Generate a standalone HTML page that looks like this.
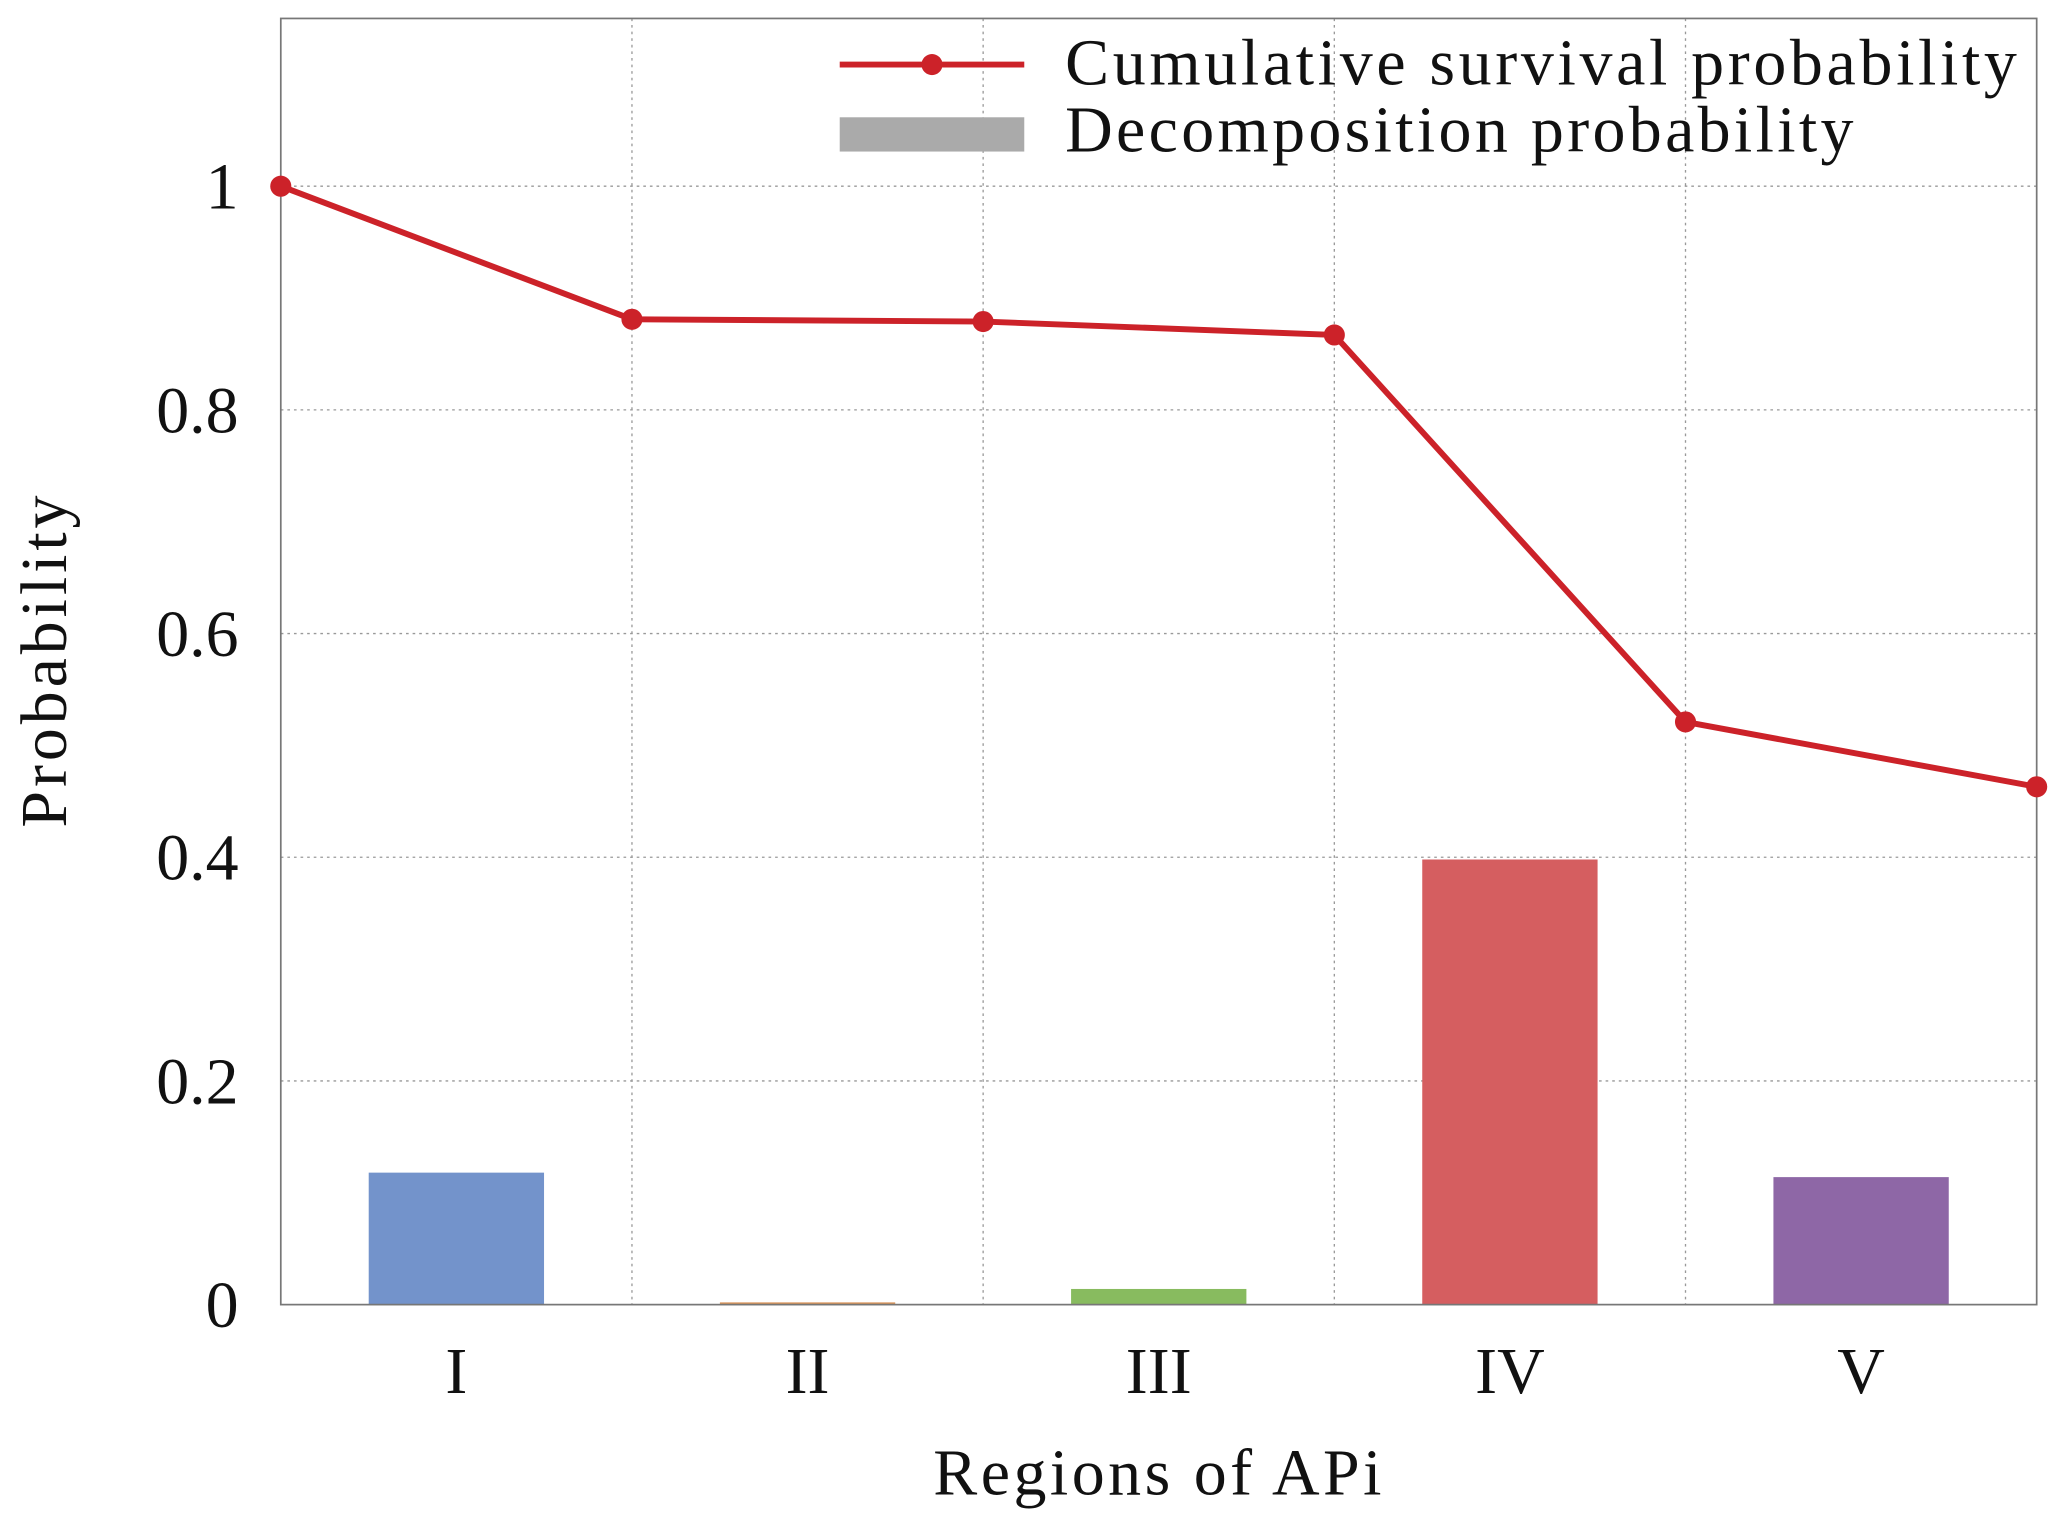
<!DOCTYPE html>
<html><head><meta charset="utf-8"><style>
html,body{margin:0;padding:0;background:#fff;}
svg{display:block;font-family:"Liberation Serif",serif;}
</style></head><body>
<svg id="chart" width="2067" height="1526" viewBox="0 0 1568 1158" preserveAspectRatio="none" xmlns="http://www.w3.org/2000/svg"></svg>
<script>
const categories = ["I","II","III","IV","V"];
const decomposition = [0.118, 0.002, 0.014, 0.398, 0.114];
const survival = [1, 0.881, 0.879, 0.867, 0.521, 0.463];
const yTicks = [0, 0.2, 0.4, 0.6, 0.8, 1];
const yTickLabels = ["0","0.2","0.4","0.6","0.8","1"];
const barColors = ["#7393cb","#d9955a","#88bb5f","#d55e60","#8e67a6"];

const NS="http://www.w3.org/2000/svg";
const svg=document.getElementById('chart');
const L=213,R=1545,T=14,B=990,YMAX=1.15;
const y=v=>B-(v/YMAX)*(B-T);
const step=(R-L)/categories.length;
const xb=i=>L+i*step;
function mk(tag,attrs,parent){const e=document.createElementNS(NS,tag);for(const k in attrs)e.setAttribute(k,attrs[k]);(parent||svg).appendChild(e);return e;}

for(let i=1;i<categories.length;i++){
  const g=mk('line',{x1:xb(i),x2:xb(i),y1:T,y2:B,stroke:'#999','stroke-width':1,'stroke-dasharray':'2,3'});
  
  
}
yTicks.forEach((v,i)=>{
  if(v>0){
    const g=mk('line',{x1:L,x2:R,y1:y(v),y2:y(v),stroke:'#999','stroke-width':1,'stroke-dasharray':'2,3'});
    
    
  }
  const t=mk('text',{x:L-32,y:y(v)+17,'text-anchor':'end','font-size':50,fill:'#111'});
  t.textContent=yTickLabels[i];
  
  
});
decomposition.forEach((v,i)=>{
  const cx=xb(i)+step/2,w=133;
  const r=mk('rect',{x:cx-w/2,y:y(v),width:w,height:Math.max(B-y(v),1.5),fill:barColors[i]});
  
  
  const t=mk('text',{x:cx,y:1057,'text-anchor':'middle','font-size':50,fill:'#111'});
  t.textContent=categories[i];
  
  
});
const fr=mk('rect',{x:L,y:T,width:R-L,height:B-T,fill:'none',stroke:'#777','stroke-width':1.3});


const pts=survival.map((v,i)=>xb(i)+','+y(v)).join(' ');
const pl=mk('polyline',{points:pts,fill:'none',stroke:'#cc2229','stroke-width':4.5,'stroke-linejoin':'round'});


survival.forEach((v,i)=>{
  const c=mk('circle',{cx:xb(i),cy:y(v),r:8,fill:'#cc2229'});
  
  
});
const lg=mk('g',{});


mk('line',{x1:637,x2:777,y1:49,y2:49,stroke:'#cc2229','stroke-width':4.5},lg);
mk('circle',{cx:707,cy:49,r:8,fill:'#cc2229'},lg);
const t1=mk('text',{x:808,y:64,'font-size':50,fill:'#111',textLength:722,lengthAdjust:'spacing'},lg);t1.textContent='Cumulative survival probability';


mk('rect',{x:637,y:89,width:140,height:26,fill:'#aaaaaa'},lg);
const t2=mk('text',{x:808,y:115,'font-size':50,fill:'#111',textLength:598,lengthAdjust:'spacing'},lg);t2.textContent='Decomposition probability';


const xt=mk('text',{x:708,y:1134,'font-size':50,fill:'#111',textLength:340,lengthAdjust:'spacing'});xt.textContent='Regions of APi';


const yt=mk('text',{x:0,y:0,'font-size':50,fill:'#111',textLength:252,lengthAdjust:'spacing',transform:'translate(50,628) rotate(-90)'});yt.textContent='Probability';


</script>
</body></html>
